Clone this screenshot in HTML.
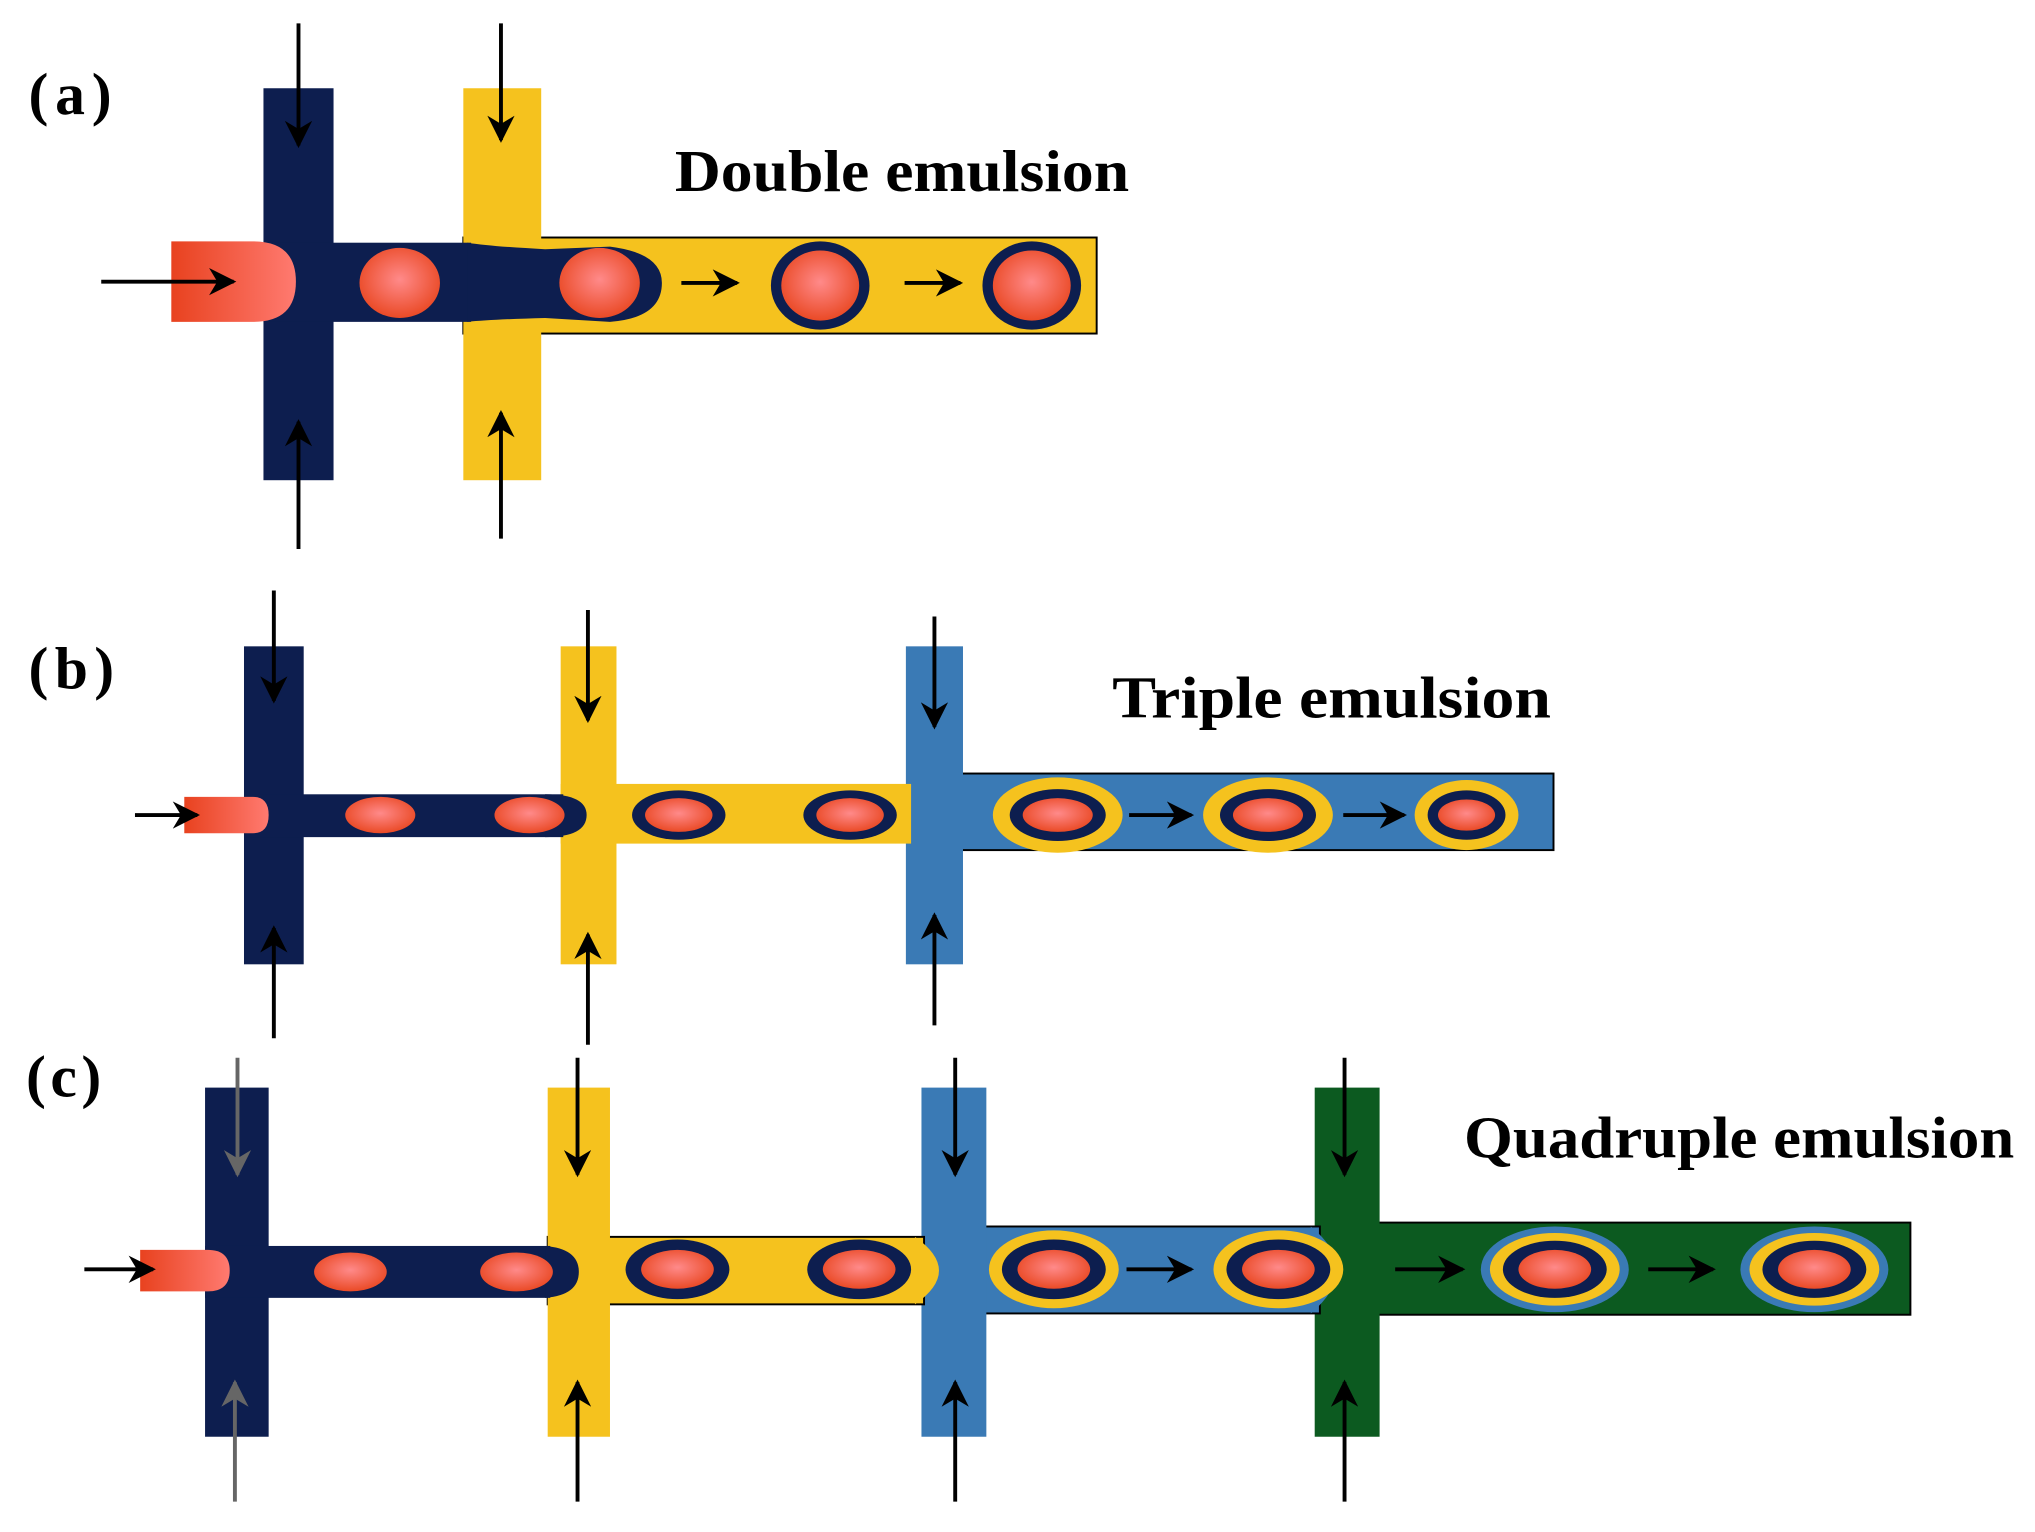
<!DOCTYPE html>
<html><head><style>html,body{margin:0;padding:0;background:#fff}svg{display:block}</style></head>
<body>
<svg width="2035" height="1532" viewBox="0 0 1568 1180.4" preserveAspectRatio="none" xmlns="http://www.w3.org/2000/svg">
<defs>
<radialGradient id="o" cx="0.5" cy="0.45" r="0.55"><stop offset="0" stop-color="#ff8a8a"/><stop offset="1" stop-color="#ea4a26"/></radialGradient>
<linearGradient id="oi" x1="0" x2="1"><stop offset="0" stop-color="#e8421f"/><stop offset="1" stop-color="#ff7a70"/></linearGradient>
<marker id="ah" viewBox="0 0 10 10" refX="9" refY="5" markerWidth="7" markerHeight="7" orient="auto-start-reverse"><path d="M0,0 L10,5 L0,10 L3,5 z" fill="#000"/></marker>
<marker id="ag" viewBox="0 0 10 10" refX="9" refY="5" markerWidth="7" markerHeight="7" orient="auto-start-reverse"><path d="M0,0 L10,5 L0,10 L3,5 z" fill="#666"/></marker>
</defs>
<g font-family="Liberation Serif, serif" font-weight="bold" fill="#000">
<text x="22" y="88" font-size="46" textLength="64">(a)</text>
<text x="22" y="530" font-size="46" textLength="66">(b)</text>
<text x="20" y="845" font-size="46" textLength="58">(c)</text>
<text x="520" y="147" font-size="46" textLength="350" lengthAdjust="spacingAndGlyphs">Double emulsion</text>
<text x="857" y="553" font-size="46" textLength="338" lengthAdjust="spacingAndGlyphs">Triple emulsion</text>
<text x="1128" y="892" font-size="46" textLength="424" lengthAdjust="spacingAndGlyphs">Quadruple emulsion</text>
</g>
<!-- Panel a -->
<rect x="357" y="183" width="488" height="74" fill="#f5c21e" stroke="#000" stroke-width="1.5"/>
<rect x="357" y="68" width="60" height="302" fill="#f5c21e"/>
<rect x="203" y="68" width="54" height="302" fill="#0d1e4f"/>
<rect x="203" y="187" width="160" height="61" fill="#0d1e4f"/>
<path d="M360,187 Q380,190 420,192 L470,190 Q510,195 510,218 Q510,245 470,248 L420,245 Q380,246 360,248 Z" fill="#0d1e4f"/>
<path d="M132,186 L195,186 Q228,186 228,217 Q228,248 195,248 L132,248 Z" fill="url(#oi)"/>
<ellipse cx="308" cy="218" rx="31" ry="27" fill="url(#o)"/>
<ellipse cx="462" cy="218" rx="31" ry="27" fill="url(#o)"/>
<ellipse cx="632" cy="220" rx="38" ry="34" fill="#0d1e4f"/><ellipse cx="632" cy="220" rx="30" ry="27" fill="url(#o)"/>
<ellipse cx="795" cy="220" rx="38" ry="34" fill="#0d1e4f"/><ellipse cx="795" cy="220" rx="30" ry="27" fill="url(#o)"/>
<g stroke="#000" stroke-width="3" marker-end="url(#ah)">
<line x1="230" y1="18" x2="230" y2="112"/><line x1="386" y1="18" x2="386" y2="108"/>
<line x1="230" y1="423" x2="230" y2="325"/><line x1="386" y1="415" x2="386" y2="318"/>
<line x1="78" y1="217" x2="180" y2="217"/><line x1="525" y1="218" x2="568" y2="218"/><line x1="697" y1="218" x2="740" y2="218"/>
</g>
<!-- Panel b -->
<rect x="700" y="596" width="497" height="59" fill="#3a7ab5" stroke="#000" stroke-width="1.5"/>
<rect x="698" y="498" width="44" height="245" fill="#3a7ab5"/>
<rect x="432" y="604" width="270" height="46" fill="#f5c21e"/>
<path d="M690,604 Q712,627 690,650 Z" fill="#f5c21e"/>
<rect x="432" y="498" width="43" height="245" fill="#f5c21e"/>
<rect x="188" y="498" width="46" height="245" fill="#0d1e4f"/>
<rect x="188" y="612" width="246" height="33" fill="#0d1e4f"/>
<path d="M420,612 Q452,612 452,628 Q452,645 420,645 Z" fill="#0d1e4f"/>
<path d="M142,614 L195,614 Q207,614 207,628 Q207,642 195,642 L142,642 Z" fill="url(#oi)"/>
<ellipse cx="293" cy="628" rx="27" ry="14" fill="url(#o)"/>
<ellipse cx="408" cy="628" rx="27" ry="14" fill="url(#o)"/>
<ellipse cx="523" cy="628" rx="36" ry="19" fill="#0d1e4f"/><ellipse cx="523" cy="628" rx="26" ry="13" fill="url(#o)"/>
<ellipse cx="655" cy="628" rx="36" ry="19" fill="#0d1e4f"/><ellipse cx="655" cy="628" rx="26" ry="13" fill="url(#o)"/>
<ellipse cx="815" cy="628" rx="50" ry="29" fill="#f5c21e"/><ellipse cx="815" cy="628" rx="37" ry="20" fill="#0d1e4f"/><ellipse cx="815" cy="628" rx="27" ry="13" fill="url(#o)"/>
<ellipse cx="977" cy="628" rx="50" ry="29" fill="#f5c21e"/><ellipse cx="977" cy="628" rx="37" ry="20" fill="#0d1e4f"/><ellipse cx="977" cy="628" rx="27" ry="13" fill="url(#o)"/>
<ellipse cx="1130" cy="628" rx="40" ry="27" fill="#f5c21e"/><ellipse cx="1130" cy="628" rx="30" ry="19" fill="#0d1e4f"/><ellipse cx="1130" cy="628" rx="22" ry="12" fill="url(#o)"/>
<g stroke="#000" stroke-width="3" marker-end="url(#ah)">
<line x1="211" y1="455" x2="211" y2="540"/><line x1="453" y1="470" x2="453" y2="555"/><line x1="720" y1="475" x2="720" y2="560"/>
<line x1="211" y1="800" x2="211" y2="715"/><line x1="453" y1="805" x2="453" y2="720"/><line x1="720" y1="790" x2="720" y2="705"/>
<line x1="104" y1="628" x2="152" y2="628"/><line x1="870" y1="628" x2="918" y2="628"/><line x1="1035" y1="628" x2="1082" y2="628"/>
</g>
<!-- Panel c -->
<rect x="1015" y="942" width="457" height="71" fill="#0c5a20" stroke="#000" stroke-width="1.5"/>
<rect x="1013" y="838" width="50" height="269" fill="#0c5a20"/>
<rect x="712" y="945" width="305" height="67" fill="#3a7ab5" stroke="#000" stroke-width="1.5"/>
<path d="M1010,945 Q1050,978 1010,1012 Z" fill="#3a7ab5"/>
<rect x="710" y="838" width="50" height="269" fill="#3a7ab5"/>
<rect x="422" y="953" width="290" height="52" fill="#f5c21e" stroke="#000" stroke-width="1.5"/>
<path d="M705,953 Q742,979 705,1005 Z" fill="#f5c21e"/>
<rect x="422" y="838" width="48" height="269" fill="#f5c21e"/>
<rect x="158" y="838" width="49" height="269" fill="#0d1e4f"/>
<rect x="158" y="960" width="266" height="40" fill="#0d1e4f"/>
<path d="M420,960 Q446,962 446,980 Q446,998 420,1000 Z" fill="#0d1e4f"/>
<path d="M108,963 L160,963 Q177,963 177,979 Q177,995 160,995 L108,995 Z" fill="url(#oi)"/>
<ellipse cx="270" cy="980" rx="28" ry="15" fill="url(#o)"/>
<ellipse cx="398" cy="980" rx="28" ry="15" fill="url(#o)"/>
<ellipse cx="522" cy="978" rx="40" ry="23" fill="#0d1e4f"/><ellipse cx="522" cy="978" rx="28" ry="15" fill="url(#o)"/>
<ellipse cx="662" cy="978" rx="40" ry="23" fill="#0d1e4f"/><ellipse cx="662" cy="978" rx="28" ry="15" fill="url(#o)"/>
<ellipse cx="812" cy="978" rx="50" ry="30" fill="#f5c21e"/><ellipse cx="812" cy="978" rx="40" ry="23" fill="#0d1e4f"/><ellipse cx="812" cy="978" rx="28" ry="15" fill="url(#o)"/>
<ellipse cx="985" cy="978" rx="50" ry="30" fill="#f5c21e"/><ellipse cx="985" cy="978" rx="40" ry="23" fill="#0d1e4f"/><ellipse cx="985" cy="978" rx="28" ry="15" fill="url(#o)"/>
<ellipse cx="1198" cy="978" rx="57" ry="33" fill="#3a7ab5"/><ellipse cx="1198" cy="978" rx="50" ry="28" fill="#f5c21e"/><ellipse cx="1198" cy="978" rx="40" ry="22" fill="#0d1e4f"/><ellipse cx="1198" cy="978" rx="28" ry="15" fill="url(#o)"/>
<ellipse cx="1398" cy="978" rx="57" ry="33" fill="#3a7ab5"/><ellipse cx="1398" cy="978" rx="50" ry="28" fill="#f5c21e"/><ellipse cx="1398" cy="978" rx="40" ry="22" fill="#0d1e4f"/><ellipse cx="1398" cy="978" rx="28" ry="15" fill="url(#o)"/>
<g stroke="#666" stroke-width="3" marker-end="url(#ag)">
<line x1="183" y1="815" x2="183" y2="905"/><line x1="181" y1="1157" x2="181" y2="1065"/>
</g>
<g stroke="#000" stroke-width="3" marker-end="url(#ah)">
<line x1="445" y1="815" x2="445" y2="905"/><line x1="736" y1="815" x2="736" y2="905"/><line x1="1036" y1="815" x2="1036" y2="905"/>
<line x1="445" y1="1157" x2="445" y2="1065"/><line x1="736" y1="1157" x2="736" y2="1065"/><line x1="1036" y1="1157" x2="1036" y2="1065"/>
<line x1="65" y1="978" x2="118" y2="978"/><line x1="868" y1="978" x2="918" y2="978"/><line x1="1075" y1="978" x2="1127" y2="978"/><line x1="1270" y1="978" x2="1320" y2="978"/>
</g>
</svg>
</body></html>
